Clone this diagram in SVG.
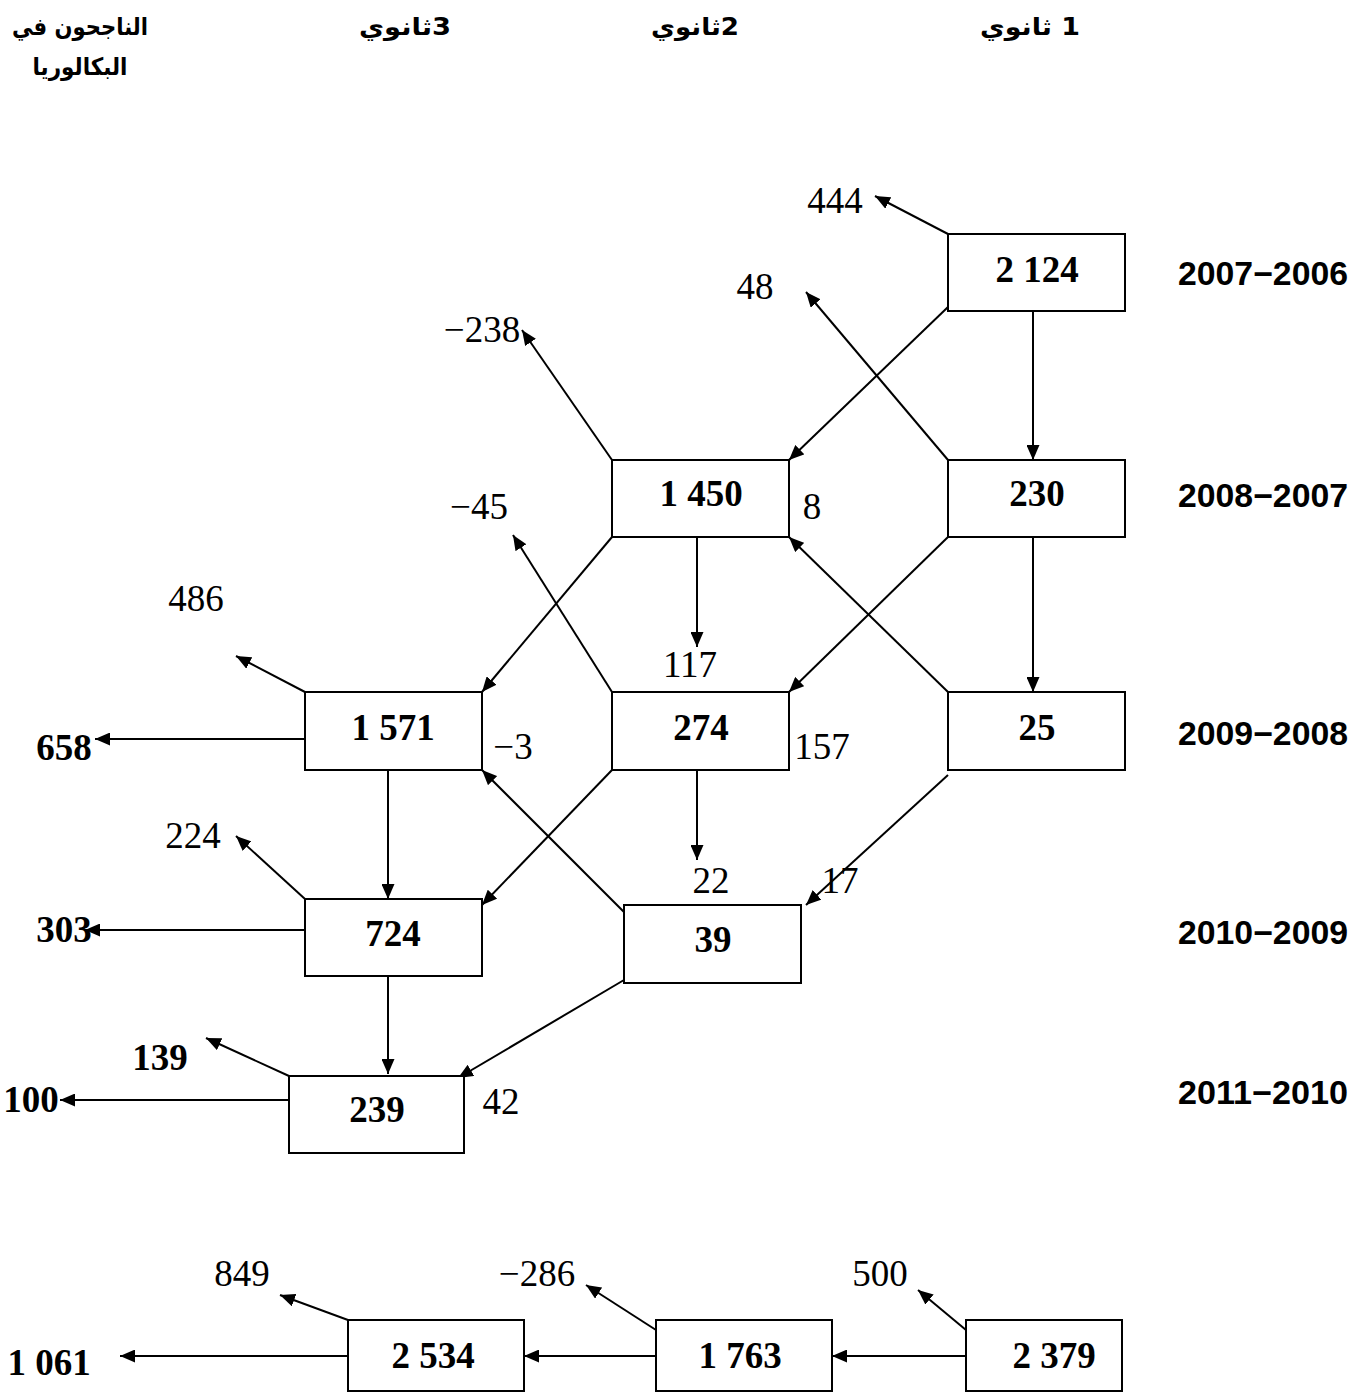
<svg xmlns="http://www.w3.org/2000/svg" width="1369" height="1392" viewBox="0 0 1369 1392">
<style>
.box{fill:#fff;stroke:#000;stroke-width:2}
.v{font-family:"Liberation Serif","Times New Roman",serif;font-weight:bold;font-size:37px;text-anchor:middle;fill:#000}
.n{font-family:"Liberation Serif","Times New Roman",serif;font-size:37px;text-anchor:middle;fill:#000}
.y{font-family:"Liberation Sans",Arial,sans-serif;font-weight:bold;font-size:33px;text-anchor:end;fill:#000}
.h{font-family:"DejaVu Sans","Liberation Sans",sans-serif;font-weight:bold;font-size:24px;text-anchor:middle;fill:#000}
#connectors line{stroke:#000;stroke-width:2;marker-end:url(#ah)}
</style>
<defs>
<marker id="ah" viewBox="0 0 15 13" refX="15" refY="6.5" markerWidth="15" markerHeight="13" markerUnits="userSpaceOnUse" orient="auto">
<path d="M0,0 L15,6.5 L0,13 z" fill="#000"/>
</marker>
</defs>
<rect width="1369" height="1392" fill="#fff"/>
<g id="headers">
<text class="h" x="1030" y="35" direction="rtl" textLength="100" lengthAdjust="spacingAndGlyphs">1 ثانوي</text>
<text class="h" x="695" y="35" direction="rtl" textLength="88" lengthAdjust="spacingAndGlyphs">2ثانوي</text>
<text class="h" x="405" y="35" direction="rtl" textLength="92" lengthAdjust="spacingAndGlyphs">3ثانوي</text>
<text class="h" x="80" y="35" direction="rtl" textLength="136" lengthAdjust="spacingAndGlyphs">الناجحون في</text>
<text class="h" x="80" y="75" direction="rtl" textLength="95" lengthAdjust="spacingAndGlyphs">البكالوريا</text>
</g>
<g id="years">
<text class="y" x="1348" y="285" textLength="170" lengthAdjust="spacingAndGlyphs">2007−2006</text>
<text class="y" x="1348" y="507" textLength="170" lengthAdjust="spacingAndGlyphs">2008−2007</text>
<text class="y" x="1348" y="745" textLength="170" lengthAdjust="spacingAndGlyphs">2009−2008</text>
<text class="y" x="1348" y="944" textLength="170" lengthAdjust="spacingAndGlyphs">2010−2009</text>
<text class="y" x="1348" y="1104" textLength="170" lengthAdjust="spacingAndGlyphs">2011−2010</text>
</g>
<g id="connectors">
<line x1="948" y1="234" x2="875" y2="196"/>
<line x1="948" y1="307" x2="789" y2="460"/>
<line x1="1033" y1="311" x2="1033" y2="460"/>
<line x1="948" y1="460" x2="806" y2="292"/>
<line x1="612" y1="460" x2="522" y2="330"/>
<line x1="612" y1="537" x2="482" y2="692"/>
<line x1="697" y1="537" x2="697" y2="647"/>
<line x1="948" y1="537" x2="789" y2="692"/>
<line x1="1033" y1="537" x2="1033" y2="692"/>
<line x1="612" y1="692" x2="513" y2="535"/>
<line x1="948" y1="692" x2="789" y2="537"/>
<line x1="305" y1="692" x2="236" y2="656"/>
<line x1="305" y1="739" x2="95" y2="739"/>
<line x1="388" y1="770" x2="388" y2="899"/>
<line x1="612" y1="770" x2="482" y2="905"/>
<line x1="697" y1="770" x2="697" y2="860"/>
<line x1="948" y1="775" x2="806" y2="905"/>
<line x1="624" y1="912" x2="482" y2="770"/>
<line x1="305" y1="899" x2="236" y2="836"/>
<line x1="305" y1="930" x2="85" y2="930"/>
<line x1="388" y1="976" x2="388" y2="1074"/>
<line x1="624" y1="980" x2="458" y2="1078"/>
<line x1="289" y1="1076" x2="206" y2="1038"/>
<line x1="289" y1="1100" x2="60" y2="1100"/>
<line x1="966" y1="1330" x2="918" y2="1290"/>
<line x1="966" y1="1356" x2="832" y2="1356"/>
<line x1="656" y1="1330" x2="586" y2="1285"/>
<line x1="656" y1="1356" x2="524" y2="1356"/>
<line x1="348" y1="1320" x2="280" y2="1295"/>
<line x1="348" y1="1356" x2="120" y2="1356"/>
</g>
<g id="n2124"><rect class="box" x="948" y="234" width="177" height="77"/><text class="v" x="1037" y="282">2 124</text></g>
<g id="n1450"><rect class="box" x="612" y="460" width="177" height="77"/><text class="v" x="701" y="506">1 450</text></g>
<g id="n230"><rect class="box" x="948" y="460" width="177" height="77"/><text class="v" x="1037" y="506">230</text></g>
<g id="n1571"><rect class="box" x="305" y="692" width="177" height="78"/><text class="v" x="393" y="740">1 571</text></g>
<g id="n274"><rect class="box" x="612" y="692" width="177" height="78"/><text class="v" x="701" y="740">274</text></g>
<g id="n25"><rect class="box" x="948" y="692" width="177" height="78"/><text class="v" x="1037" y="740">25</text></g>
<g id="n724"><rect class="box" x="305" y="899" width="177" height="77"/><text class="v" x="393" y="946">724</text></g>
<g id="n39"><rect class="box" x="624" y="905" width="177" height="78"/><text class="v" x="713" y="952">39</text></g>
<g id="n239"><rect class="box" x="289" y="1076" width="175" height="77"/><text class="v" x="377" y="1122">239</text></g>
<g id="n2534"><rect class="box" x="348" y="1320" width="176" height="71"/><text class="v" x="433" y="1368">2 534</text></g>
<g id="n1763"><rect class="box" x="656" y="1320" width="176" height="71"/><text class="v" x="740" y="1368">1 763</text></g>
<g id="n2379"><rect class="box" x="966" y="1320" width="156" height="71"/><text class="v" x="1054" y="1368">2 379</text></g>
<g id="labels">
<text class="n" x="835" y="213">444</text>
<text class="n" x="755" y="299">48</text>
<text class="n" x="482" y="342">−238</text>
<text class="n" x="812" y="519">8</text>
<text class="n" x="479" y="519">−45</text>
<text class="n" x="690" y="677">117</text>
<text class="n" x="196" y="611">486</text>
<text class="n" x="513" y="759">−3</text>
<text class="n" x="822" y="759">157</text>
<text class="n" x="193" y="848">224</text>
<text class="n" x="711" y="893">22</text>
<text class="n" x="840" y="893">17</text>
<text class="n" x="501" y="1114">42</text>
<text class="n" x="242" y="1286">849</text>
<text class="n" x="537" y="1286">−286</text>
<text class="n" x="880" y="1286">500</text>
<text class="v" x="64" y="760">658</text>
<text class="v" x="64" y="942">303</text>
<text class="v" x="160" y="1070">139</text>
<text class="v" x="31" y="1112">100</text>
<text class="v" x="49" y="1375">1 061</text>
</g>
</svg>
